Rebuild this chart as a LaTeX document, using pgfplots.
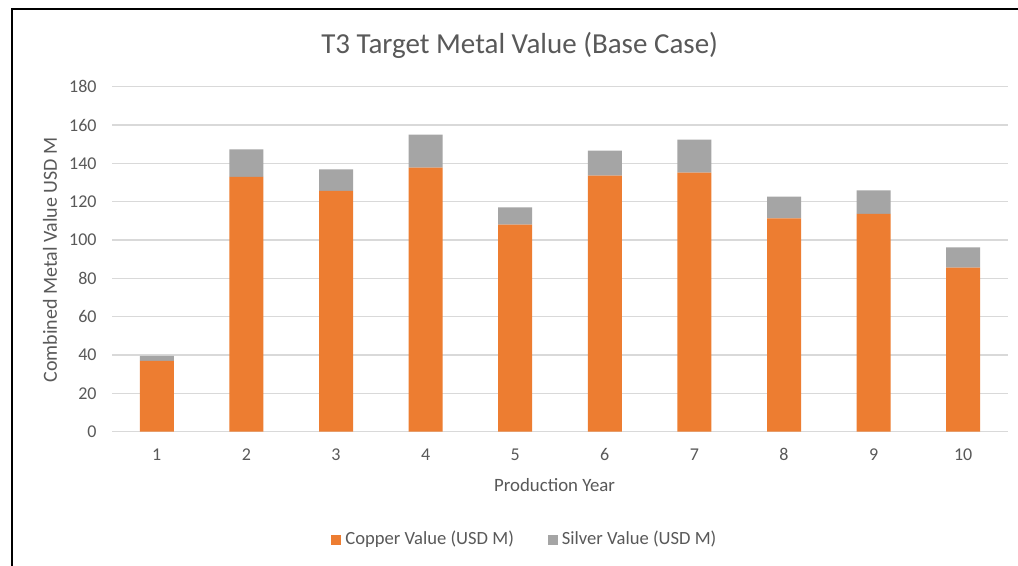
\documentclass[border=0pt]{standalone}
\usepackage{fontspec}
\setmainfont{Carlito}
\usepackage{pgfplots}
\pgfplotsset{compat=1.18}
\definecolor{cu}{HTML}{ED7D31}
\definecolor{ag}{HTML}{A5A5A5}
\definecolor{txt}{HTML}{595959}
\definecolor{grd}{HTML}{D9D9D9}
\begin{document}
\begin{tikzpicture}
\useasboundingbox (0,0) rectangle (509pt,283pt);
\fill[white] (0,0) rectangle (509pt,283pt);
\draw[line width=1.1pt] (6pt,0) -- (6pt,278.5pt) -- (509pt,278.5pt);
\begin{axis}[
  at={(56pt,67.15pt)}, anchor=south west,
  scale only axis, width=448pt, height=172.5pt,
  ybar stacked, bar width=17pt,
  xmin=0.5, xmax=10.5, ymin=0, ymax=180,
  xtick={1,...,10}, ytick={0,20,...,180},
  separate axis lines, axis line style={draw=none},
  major tick length=0pt,
  ymajorgrids, grid style={grd, line width=0.6pt},
  tick label style={font=\fontsize{9}{11}\selectfont, text=txt},
  /pgf/number format/assume math mode=true,
  xticklabel style={anchor=center, yshift=-11.5pt},
  yticklabel style={anchor=east, inner sep=0pt, xshift=-7.5pt},
  title={T3 Target Metal Value (Base Case)},
  every axis title/.style={at={(axis description cs:0.455,1)}, yshift=20.85pt, anchor=center, font=\fontsize{14.5}{17}\selectfont, text=txt},
  xlabel={Production Year},
  every axis x label/.style={at={(axis description cs:0.494,0)}, yshift=-26.5pt, anchor=center, font=\fontsize{9.4}{11}\selectfont, text=txt},
  ylabel={Combined Metal Value USD M},
  every axis y label/.style={at={(axis description cs:0,0.498)}, xshift=-31pt, anchor=center, rotate=90, font=\fontsize{10}{12}\selectfont, text=txt},
  legend style={at={(axis description cs:0.462,-0.313)}, anchor=center, legend columns=2, draw=none, fill=none, font=\fontsize{9.3}{11}\selectfont, text=txt, /tikz/every even column/.append style={column sep=15pt}, /tikz/every odd column/.append style={}},
  legend image code/.code={\fill[#1] (0pt,-2.6pt) rectangle (5pt,2.4pt);},
]
\addplot[fill=cu, draw=none] coordinates {(1,37.0) (2,133.0) (3,125.6) (4,137.8) (5,108.0) (6,133.6) (7,135.2) (8,111.3) (9,113.6) (10,85.6)};
\addlegendentry{Copper Value (USD M)}
\addplot[fill=ag, draw=none] coordinates {(1,2.6) (2,14.3) (3,11.3) (4,17.2) (5,9.1) (6,13.0) (7,17.2) (8,11.3) (9,12.3) (10,10.6)};
\addlegendentry{Silver Value (USD M)}
\end{axis}
\end{tikzpicture}
\end{document}
